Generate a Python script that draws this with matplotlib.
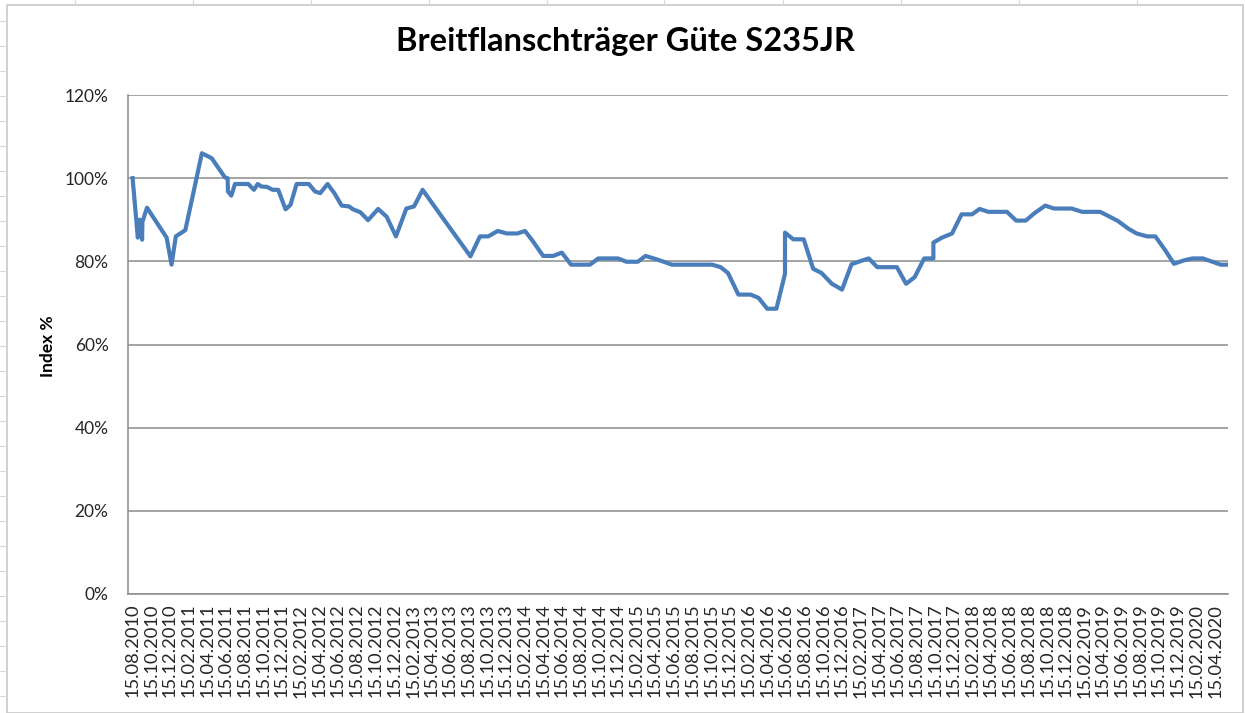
import numpy as np
import pandas as pd
import matplotlib
matplotlib.use("Agg")
import matplotlib.pyplot as plt
from matplotlib.ticker import PercentFormatter
from matplotlib.lines import Line2D
from matplotlib.patches import Rectangle

plt.rcParams["font.family"] = ["Lato", "DejaVu Sans"]

# price index (dates as dd.mm.yyyy, values in %)
dates = [
    "15.08.2010", "01.09.2010", "07.09.2010", "15.09.2010", "16.09.2010", "01.10.2010",
    "04.12.2010", "20.12.2010", "03.01.2011", "03.02.2011", "29.03.2011", "30.04.2011",
    "12.06.2011", "21.06.2011", "22.06.2011", "03.07.2011", "15.07.2011", "27.08.2011",
    "15.09.2011", "27.09.2011", "09.10.2011", "27.10.2011", "15.11.2011", "03.12.2011",
    "27.12.2011", "12.01.2012", "01.02.2012", "12.03.2012", "01.04.2012", "18.04.2012",
    "12.05.2012", "03.06.2012", "27.06.2012", "21.07.2012", "03.08.2012", "27.08.2012",
    "21.09.2012", "24.10.2012", "21.11.2012", "21.12.2012", "24.01.2013", "18.02.2013",
    "18.03.2013", "18.05.2013", "21.08.2013", "21.09.2013", "18.10.2013", "18.11.2013",
    "18.12.2013", "21.01.2014", "15.02.2014", "12.03.2014", "15.04.2014", "18.05.2014",
    "15.06.2014", "15.07.2014", "15.09.2014", "12.10.2014", "15.12.2014", "12.01.2015",
    "18.02.2015", "15.03.2015", "24.04.2015", "09.06.2015", "18.10.2015", "15.11.2015",
    "09.12.2015", "12.01.2016", "21.02.2016", "18.03.2016", "15.04.2016", "15.05.2016",
    "12.06.2016", "12.06.2016", "09.07.2016", "12.08.2016", "12.09.2016", "09.10.2016",
    "12.11.2016", "15.12.2016", "15.01.2017", "15.02.2017", "12.03.2017", "09.04.2017",
    "12.06.2017", "12.07.2017", "09.08.2017", "09.09.2017", "09.10.2017", "09.10.2017",
    "06.11.2017", "09.12.2017", "09.01.2018", "12.02.2018", "09.03.2018", "06.04.2018",
    "06.06.2018", "06.07.2018", "06.08.2018", "06.09.2018", "09.10.2018", "06.11.2018",
    "03.01.2019", "06.02.2019", "06.04.2019", "03.05.2019", "03.06.2019", "06.07.2019",
    "03.08.2019", "06.09.2019", "03.10.2019", "03.11.2019", "03.12.2019", "03.01.2020",
    "01.02.2020", "06.03.2020", "06.04.2020", "03.05.2020", "24.05.2020",
]
index_values = [
    100.0, 85.7, 90.0, 85.2, 89.5, 92.9,
    85.7, 79.2, 86.0, 87.5, 106.0, 104.8,
    100.2, 100.0, 96.8, 95.8, 98.6, 98.6,
    97.2, 98.6, 98.0, 97.9, 97.2, 97.2,
    92.5, 93.6, 98.6, 98.6, 96.8, 96.4,
    98.6, 96.4, 93.4, 93.2, 92.5, 91.8,
    89.9, 92.6, 90.7, 86.0, 92.7, 93.2,
    97.2, 90.9, 81.2, 86.0, 86.0, 87.3,
    86.7, 86.7, 87.3, 84.9, 81.3, 81.3,
    82.1, 79.2, 79.2, 80.7, 80.7, 79.9,
    79.9, 81.3, 80.4, 79.2, 79.2, 78.6,
    77.2, 72.0, 72.0, 71.2, 68.6, 68.6,
    77.0, 86.9, 85.3, 85.3, 78.2, 77.2,
    74.6, 73.2, 79.3, 80.1, 80.7, 78.6,
    78.6, 74.6, 76.2, 80.7, 80.7, 84.5,
    85.7, 86.7, 91.3, 91.3, 92.6, 91.9,
    91.9, 89.8, 89.8, 91.7, 93.4, 92.7,
    92.7, 91.9, 91.9, 90.9, 89.7, 87.9,
    86.7, 86.0, 86.0, 82.8, 79.4, 80.2,
    80.7, 80.7, 79.9, 79.2, 79.2,
]

# category labels every second month
tick_dates = pd.date_range("2010-08-01", "2020-04-01", freq="2MS") + pd.Timedelta(days=14)
tick_labels = [d.strftime("%d.%m.%Y") for d in tick_dates]

x = pd.to_datetime(dates, format="%d.%m.%Y")

W, H = 1245, 713
fig = plt.figure(figsize=(W / 100, H / 100), dpi=100)
fig.patch.set_facecolor("white")

# axes in pixel terms: left 128, right 1228, top 95, bottom 594
ax = fig.add_axes([128 / W, 1 - 594 / H, 1100 / W, (594 - 95) / H])

ax.plot(x, index_values, color="#4A7EBB", linewidth=3.0, solid_joinstyle="round")

ax.set_ylim(0, 120)
ax.set_yticks(np.arange(0, 121, 20))
ax.yaxis.set_major_formatter(PercentFormatter(100, decimals=0))
ax.set_xlim(pd.Timestamp("2010-07-31"), pd.Timestamp("2020-05-27"))
ax.set_xticks(tick_dates)
ax.set_xticklabels(tick_labels, rotation=90)

ax.grid(axis="y", color="#8C8C8C", linewidth=1.1)
ax.set_axisbelow(True)
for side in ["top", "right"]:
    ax.spines[side].set_visible(False)
ax.spines["left"].set_color("#8C8C8C")
ax.spines["bottom"].set_color("#8C8C8C")
ax.spines["left"].set_linewidth(1.1)
ax.spines["bottom"].set_linewidth(1.1)

ax.tick_params(axis="y", length=0, pad=14, labelsize=12.5, labelcolor="#262626")
ax.tick_params(axis="x", length=0, pad=7, labelsize=13.2, labelcolor="#262626")

fig.text(48 / W, 1 - 346 / H, "Index %", rotation=90, ha="center", va="center",
         fontsize=12.5, fontweight="bold")
fig.text(625 / W, 1 - 41 / H, "Breitflanschträger Güte S235JR", ha="center", va="center",
         fontsize=23.5, fontweight="bold")

# chart frame and the faint sheet grid around it
to_fig = lambda px, py: (px / W, 1 - py / H)
fig.add_artist(Rectangle(to_fig(7, 713), 1236 / W, 708 / H, fill=False,
                         edgecolor="#C8C8C8", linewidth=1.2, transform=fig.transFigure))
for cx in [75, 193, 311, 429, 547, 664, 783, 901, 1019, 1137]:
    fig.add_artist(Line2D([cx / W, cx / W], [1, 1 - 4 / H], color="#D8D8D8",
                          linewidth=0.8, transform=fig.transFigure))
for ry in range(21, 713, 25):
    fig.add_artist(Line2D([0, 6 / W], [1 - ry / H, 1 - ry / H], color="#D8D8D8",
                          linewidth=0.8, transform=fig.transFigure))

fig.savefig("out.png", dpi=100)
